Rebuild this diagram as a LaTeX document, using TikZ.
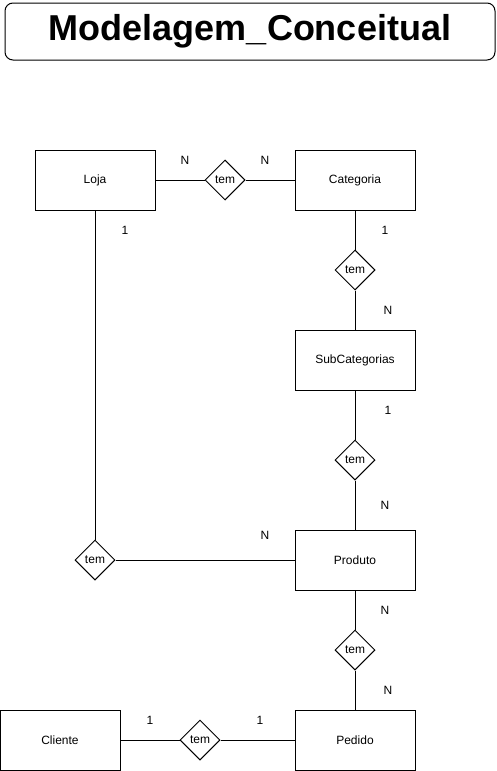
\documentclass[tikz,border=0pt]{standalone}
\usepackage{fontspec}
\setmainfont{Liberation Sans}
\usetikzlibrary{shapes.geometric}
\tikzset{entity/.style = {draw=black,line width=1pt,rectangle,minimum width=120pt,minimum height=60pt,font=\fontsize{12}{14}\selectfont}}
\tikzset{rel/.style = {draw=black,line width=1pt,diamond,aspect=1,minimum width=40pt,minimum height=40pt,inner sep=0pt,font=\fontsize{12}{14}\selectfont}}
\tikzset{card/.style = {font=\fontsize{12}{14}\selectfont}}
\tikzset{line/.style = {line width=1pt}}

\begin{document}
\begin{tikzpicture}[x=1pt,y=-1pt]
		\useasboundingbox (0,0) rectangle (496,771);
		\node[draw=black,line width=1pt,rounded corners=8pt,minimum width=490pt,minimum height=57pt,font=\fontsize{36}{40}\selectfont\bfseries] (title) at (250,31.5) {Modelagem\_Conceitual};
		\node[entity] (loja) at (95,180) {Loja};
		\node[entity] (cat) at (355,180) {Categoria};
		\node[entity] (subcat) at (355,360) {SubCategorias};
		\node[entity] (prod) at (355,560) {Produto};
		\node[entity] (ped) at (355,740) {Pedido};
		\node[entity] (cli) at (60,740) {Cliente};
		\node[rel] (temLC) at (225,180) {tem};
		\node[rel] (temCS) at (355,270) {tem};
		\node[rel] (temSP) at (355,460) {tem};
		\node[rel] (temLP) at (95,560) {tem};
		\node[rel] (temPP) at (355,650) {tem};
		\node[rel] (temCP) at (200,740) {tem};
		\path[line] (loja) edge (temLC);
		\path[line] (temLC) edge (cat);
		\path[line] (cat) edge (temCS);
		\path[line] (temCS) edge (subcat);
		\path[line] (subcat) edge (temSP);
		\path[line] (temSP) edge (prod);
		\path[line] (loja) edge (temLP);
		\path[line] (temLP) edge (prod);
		\path[line] (prod) edge (temPP);
		\path[line] (temPP) edge (ped);
		\path[line] (cli) edge (temCP);
		\path[line] (temCP) edge (ped);
		% cardinalidades
		\node[card] (cLC1) at (185,160) {N};
		\node[card] (cLC2) at (265,160) {N};
		\node[card] (cCS1) at (385,230) {1};
		\node[card] (cCS2) at (388,310) {N};
		\node[card] (cSP1) at (388,410) {1};
		\node[card] (cSP2) at (385,505) {N};
		\node[card] (cLP1) at (125,230) {1};
		\node[card] (cLP2) at (265,535) {N};
		\node[card] (cPP1) at (385,610) {N};
		\node[card] (cPP2) at (388,690) {N};
		\node[card] (cCP1) at (150,720) {1};
		\node[card] (cCP2) at (260,720) {1};
	\end{tikzpicture}
\end{document}
